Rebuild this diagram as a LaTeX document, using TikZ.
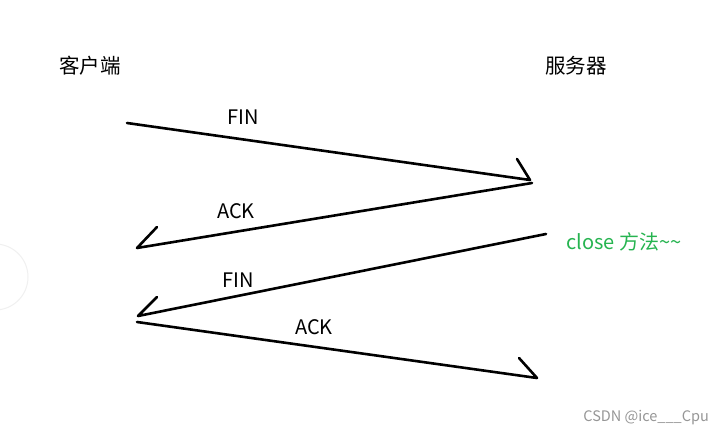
\documentclass[tikz,border=0pt]{standalone}
\usepackage{fontspec}
\setmainfont{Noto Sans CJK SC}
\definecolor{closegreen}{RGB}{38,180,80}
\definecolor{wm}{RGB}{150,150,150}
\begin{document}
\begin{tikzpicture}[x=1pt,y=-1pt,
  msg/.style={line width=2.6pt,line cap=round,line join=round,black},
  lbl/.style={font=\fontsize{20}{24}\selectfont,inner sep=0pt},
  title/.style={font=\fontsize{20.5}{24}\selectfont,inner sep=0pt}]
\useasboundingbox[fill=white] (0,0) rectangle (725,435);
% faint side button
\fill[white] (-5,277) circle (33);
\draw[black!6,line width=1pt] (-5,277) circle (33);
% titles
\node[title] (client) at (90,66) {客户端};
\node[title] (server) at (576,66) {服务器};
% endpoints
\coordinate (a1) at (127,123);
\coordinate (b1) at (530,180);
\coordinate (h1) at (517,159);
\coordinate (b2) at (532,183);
\coordinate (a2) at (137,248);
\coordinate (h2) at (157,227);
\coordinate (b3) at (546,234);
\coordinate (a3) at (138,316);
\coordinate (h3) at (157,297);
\coordinate (a4) at (137,322);
\coordinate (b4) at (537,378);
\coordinate (h4) at (519,358);
% messages
\draw[msg] (a1) -- (b1) -- (h1);
\draw[msg] (b2) -- (a2) -- (h2);
\draw[msg] (b3) -- (a3) -- (h3);
\draw[msg] (a4) -- (b4) -- (h4);
% labels
\node[lbl] (fin1) at (243,117) {FIN};
\node[lbl] (ack1) at (236,211) {ACK};
\node[lbl] (fin2) at (238,280) {FIN};
\node[lbl] (ack2) at (314,327) {ACK};
\node[lbl,text=closegreen,anchor=west] (close) at (566,242) {close 方法\textasciitilde\textasciitilde};
\node[font=\fontsize{14.5}{17}\selectfont,text=wm,anchor=east,inner sep=0pt] (wmk) at (709,418) {CSDN @ice\_\_\_Cpu};
\end{tikzpicture}
\end{document}
